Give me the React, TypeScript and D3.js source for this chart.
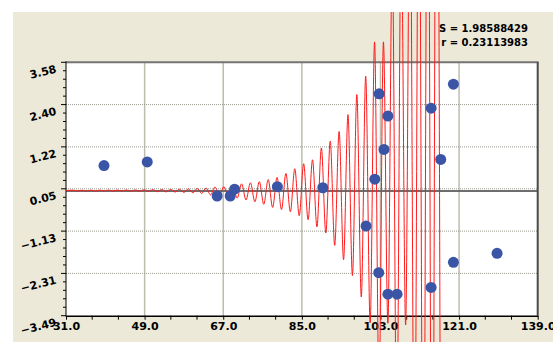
import React, { useEffect, useRef } from "react";
import * as d3 from "d3";

// axis ticks
const xTicks = [31, 49, 67, 85, 103, 121, 139];
const yTicks = [-3.49, -2.31, -1.13, 0.05, 1.22, 2.4, 3.58];
const statLines = ["S = 1.98588429", "r = 0.23113983"];

// observations
const pointX = [39.7, 49.6, 65.6, 68.6, 69.6, 79.4, 89.8, 101.7, 99.7, 102.7, 104.7, 103.8, 114.6, 119.7, 116.8, 102.6, 104.7, 106.8, 114.6, 119.7, 129.7];
const pointY = [0.7, 0.8, -0.15, -0.15, 0.04, 0.11, 0.08, 0.32, -0.99, 2.7, 2.08, 1.15, 2.3, 2.97, 0.87, -2.29, -2.89, -2.89, -2.7, -2.0, -1.75];

// fitted curve, read as its successive peaks and troughs
const fitX = [
  31.0,
  32.63, 33.65, 34.66, 35.68, 36.69, 37.71, 38.72, 39.74, 40.75, 41.77,
  42.78, 43.8, 44.81, 45.83, 46.84, 47.86, 48.87, 49.89, 50.9, 51.92,
  52.93, 53.95, 54.96, 55.98, 56.99, 58.01, 59.02, 60.04, 61.05, 62.07,
  63.08, 64.1, 65.11, 66.13, 67.14, 68.16, 69.17, 70.19, 71.2, 72.22,
  73.23, 74.25, 75.26, 76.28, 77.29, 78.31, 79.32, 80.34, 81.35, 82.37,
  83.38, 84.4, 85.41, 86.43, 87.44, 88.46, 89.47, 90.49, 91.5, 92.52,
  93.53, 94.55, 95.56, 96.58, 97.59, 98.61, 99.62, 100.64, 101.65, 102.67,
  103.68, 104.7, 105.71, 106.73, 107.74, 108.76, 109.77, 110.79, 111.8, 112.82,
  113.83, 114.85, 115.86, 116.88,
];
const fitY = [
  0,
  0.012, -0.012, 0.012, -0.012, 0.014, -0.014, 0.014, -0.014, 0.016, -0.016,
  0.016, -0.016, 0.018, -0.018, 0.02, -0.02, 0.022, -0.025, 0.026, -0.03,
  0.03, -0.035, 0.035, -0.04, 0.04, -0.05, 0.05, -0.06, 0.06, -0.08,
  0.07, -0.12, 0.1, -0.13, 0.11, -0.17, 0.15, -0.21, 0.19, -0.26,
  0.22, -0.31, 0.25, -0.38, 0.31, -0.47, 0.37, -0.53, 0.48, -0.59,
  0.61, -0.7, 0.75, -0.81, 0.86, -1.01, 1.19, -1.18, 1.38, -1.53,
  1.65, -1.93, 2.12, -2.37, 2.68, -2.97, 3.19, -3.69, 4.15, -5.5,
  4.15, -3.7, 6.5, -7.0, 7.5, -3.75, 9.0, -9.0, 11, -11,
  13, -13, 15, -15,
];

export default function App() {
  const svgRef = useRef<SVGSVGElement>(null);

  useEffect(() => {
    const W = 553;
    const H = 342;
    const left = 66, right = 537.7, top = 62.3, bottom = 315.7;
    const svg = d3.select(svgRef.current).attr("width", W).attr("height", H);
    svg.selectAll("*").remove();

    const x = d3.scaleLinear().domain([31, 139]).range([left, right]);
    const y = d3.scaleLinear().domain([-3.49, 3.58]).range([bottom, top]);
    const font = "'DejaVu Sans', Verdana, sans-serif";

    svg.append("rect").attr("width", W).attr("height", H).attr("fill", "#ffffff");
    svg.append("rect").attr("x", 13).attr("y", 12).attr("width", W - 13).attr("height", H - 12).attr("fill", "#ece9d8");
    svg.append("clipPath").attr("id", "chartClip")
      .append("rect").attr("x", 13).attr("y", 12).attr("width", W - 13).attr("height", H - 12);

    svg.append("rect").attr("x", left).attr("y", top)
      .attr("width", right - left).attr("height", bottom - top).attr("fill", "#ffffff");

    // grid
    svg.append("g").selectAll("line")
      .data(xTicks.slice(1, -1))
      .join("line")
      .attr("x1", d => x(d)).attr("x2", d => x(d))
      .attr("y1", top).attr("y2", bottom)
      .attr("stroke", "#bdbdae").attr("stroke-width", 1.5);
    svg.append("g").selectAll("line")
      .data(yTicks.slice(1, -1))
      .join("line")
      .attr("x1", left).attr("x2", right)
      .attr("y1", d => y(d)).attr("y2", d => y(d))
      .attr("stroke", "#9c9c94").attr("stroke-width", 1)
      .attr("stroke-dasharray", "1,1");

    // zero line
    svg.append("line")
      .attr("x1", left).attr("x2", right).attr("y1", y(0) + 0.5).attr("y2", y(0) + 0.5)
      .attr("stroke", "#6e6e6e").attr("stroke-width", 2);

    // frame
    svg.append("line").attr("x1", left).attr("x2", right + 1).attr("y1", top).attr("y2", top)
      .attr("stroke", "#747474").attr("stroke-width", 2);
    svg.append("line").attr("x1", right).attr("x2", right).attr("y1", top).attr("y2", bottom)
      .attr("stroke", "#4a4a4a").attr("stroke-width", 2);

    // axes
    const xMinor = d3.range(31, 139.01, 6).filter(v => !xTicks.includes(v));
    const yMinor: number[] = [];
    for (let i = 0; i < yTicks.length - 1; i++) {
      const step = (yTicks[i + 1] - yTicks[i]) / 5;
      for (let j = 1; j < 5; j++) yMinor.push(yTicks[i] + step * j);
    }
    const axisX = d3.axisBottom(x).tickValues(xTicks).tickSize(4).tickSizeOuter(0).tickFormat(d => d3.format(".1f")(d as number));
    const gx = svg.append("g").attr("transform", `translate(0,${bottom})`).call(axisX);
    gx.select(".domain").attr("stroke", "#000").attr("stroke-width", 1.5);
    gx.selectAll("text").attr("fill", "#000").attr("font-family", font)
      .attr("font-weight", "bold").attr("font-size", 11).attr("dy", 0).attr("y", 14.5);
    svg.append("g").selectAll("line").data(xMinor).join("line")
      .attr("x1", d => x(d)).attr("x2", d => x(d))
      .attr("y1", bottom).attr("y2", bottom + 4).attr("stroke", "#000");

    svg.append("line").attr("x1", left).attr("x2", left).attr("y1", top - 1).attr("y2", bottom + 1)
      .attr("stroke", "#000").attr("stroke-width", 1);
    svg.append("g").selectAll("line").data(yTicks).join("line")
      .attr("x1", left - 5).attr("x2", left).attr("y1", d => y(d)).attr("y2", d => y(d)).attr("stroke", "#000");
    svg.append("g").selectAll("line").data(yMinor).join("line")
      .attr("x1", left - 3).attr("x2", left).attr("y1", d => y(d)).attr("y2", d => y(d)).attr("stroke", "#000");
    svg.append("g").selectAll("text").data(yTicks).join("text")
      .attr("transform", d => `translate(57,${y(d) + 10}) rotate(-14)`)
      .attr("text-anchor", "end")
      .attr("font-family", font).attr("font-weight", "bold").attr("font-size", 11)
      .text(d => d3.format(".2f")(d));

    // fitted curve
    const line = d3.line<number>()
      .x((d, i) => x(fitX[i]))
      .y(d => y(d))
      .curve(d3.curveMonotoneX);
    svg.append("path")
      .attr("clip-path", "url(#chartClip)")
      .attr("d", line(fitY))
      .attr("fill", "none")
      .attr("stroke", "#ff1a1a")
      .attr("stroke-width", 1);

    // points
    svg.append("g").selectAll("circle").data(pointX).join("circle")
      .attr("cx", d => x(d))
      .attr("cy", (d, i) => y(pointY[i]))
      .attr("r", 5.5)
      .attr("fill", "#3a55a6");

    // statistics
    svg.append("g").selectAll("text").data(statLines).join("text")
      .attr("x", 528).attr("y", (d, i) => 31.5 + i * 14.5)
      .attr("text-anchor", "end")
      .attr("font-family", font).attr("font-weight", "bold").attr("font-size", 10)
      .text(d => d);
  }, []);

  return <svg ref={svgRef} style={{ position: "absolute", left: 0, top: 0 }}></svg>;
}
